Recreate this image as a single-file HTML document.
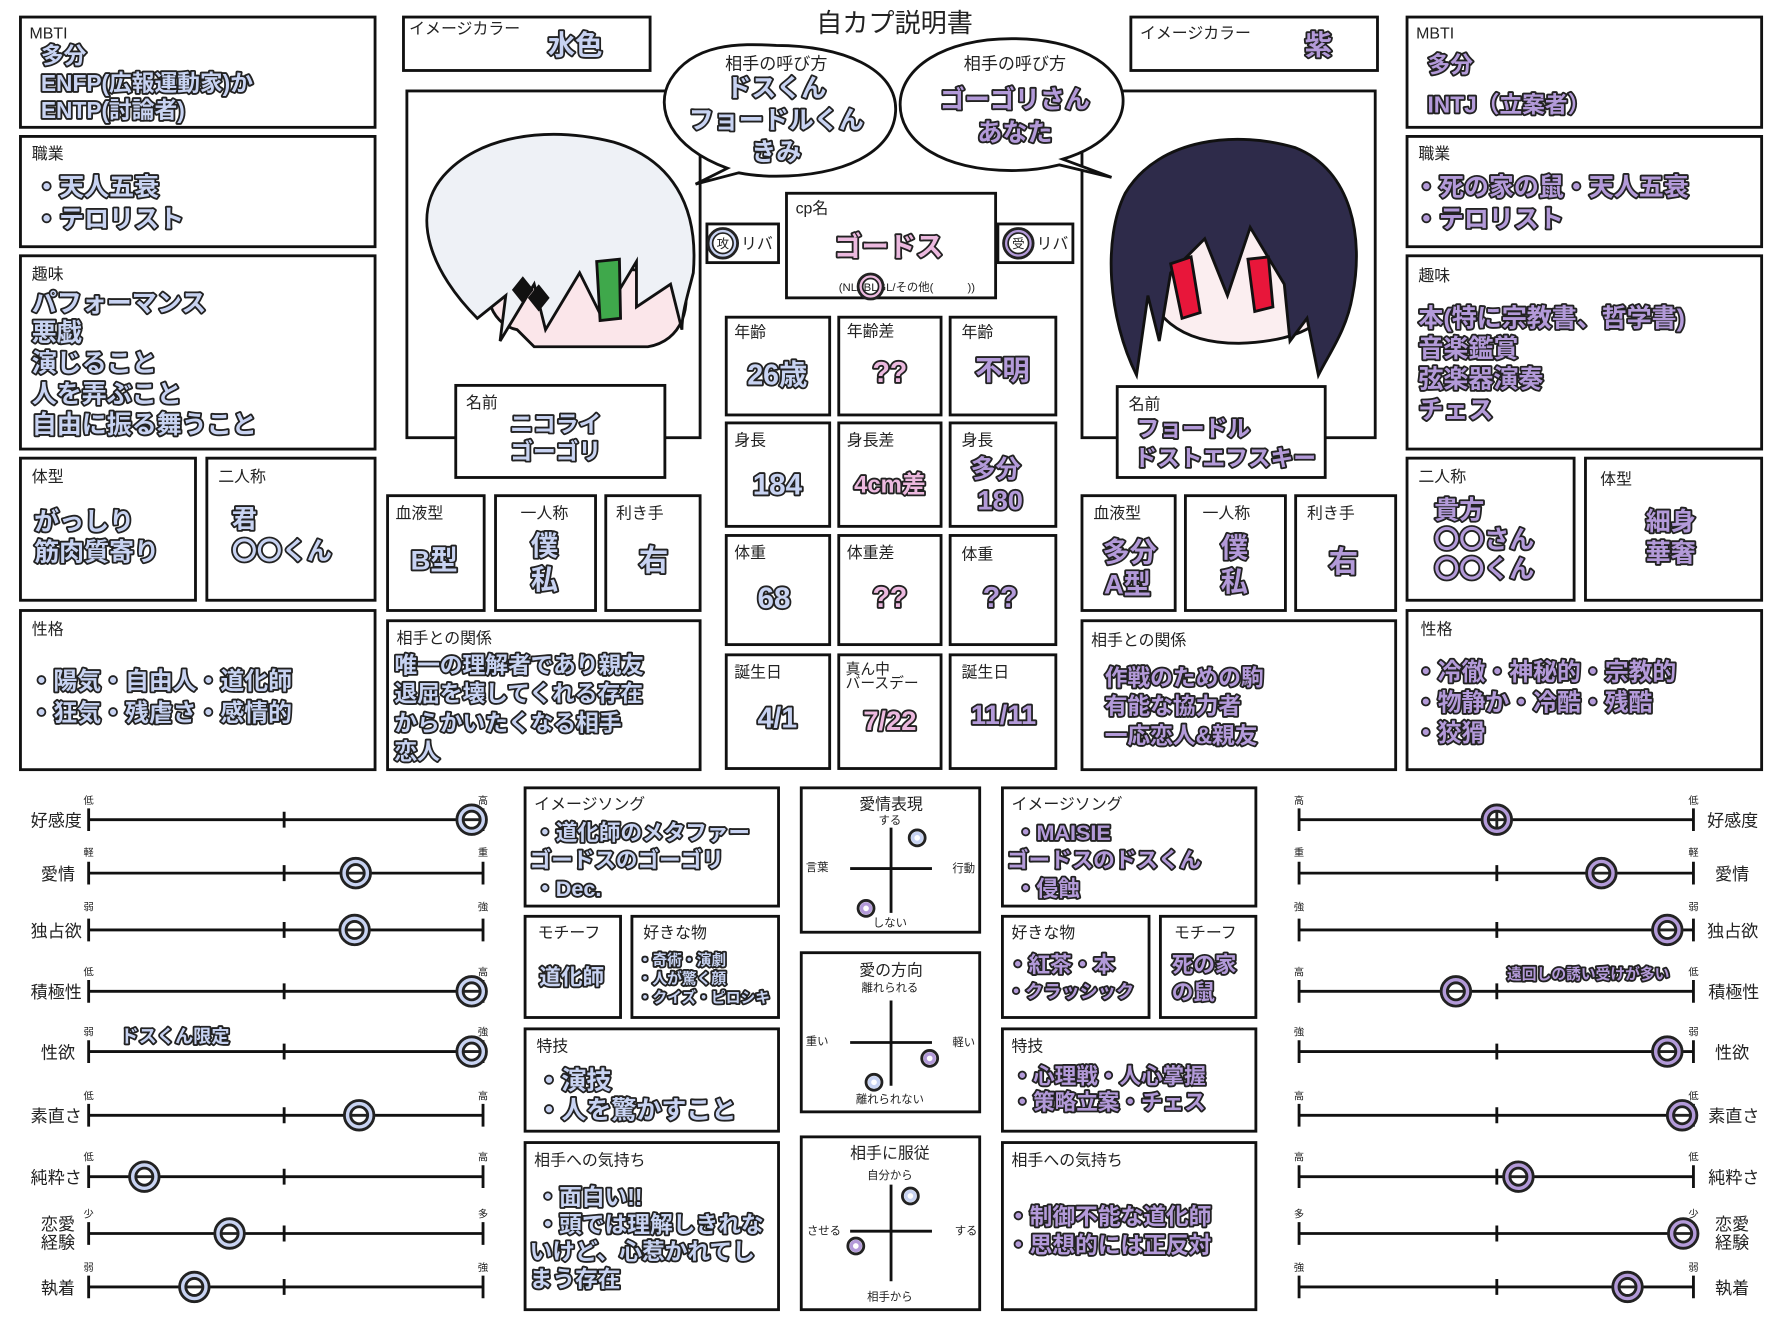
<!DOCTYPE html>
<html><head><meta charset="utf-8"><style>
html,body{margin:0;padding:0;background:#fff;}
svg{display:block;font-family:"Liberation Sans","Noto Sans CJK JP",sans-serif;}
.bx{fill:#fff;stroke:#111;stroke-width:2.5}
.lb{fill:#222}.lb:not([font-size]){font-size:14px}
.sm{fill:#222}.sm:not([font-size]){font-size:10px}
.b,.p,.k{font-weight:bold;stroke:#222;stroke-width:3.2;paint-order:stroke;stroke-linejoin:round}
.b:not([font-size]),.p:not([font-size]),.k:not([font-size]){font-size:22px}
.b{fill:#c8d3f2}.p{fill:#b39ad9}.k{fill:#ecb9df}
.ln{stroke:#111;stroke-width:2.5}
</style></head><body>
<svg width="1773" height="1329" viewBox="0 0 1560 1169" preserveAspectRatio="none">
<rect width="1560" height="1169" fill="#fff"/>
<text x="787" y="28" text-anchor="middle" font-size="23" fill="#222">自カプ説明書</text>

<!-- LEFT COLUMN -->
<rect class="bx" x="18" y="15" width="312" height="97"/>
<text class="lb" x="26" y="34">MBTI</text>
<text class="b" x="36" y="56" font-size="20">多分</text>
<text class="b" x="36" y="80" font-size="20">ENFP(広報運動家)か</text>
<text class="b" x="36" y="104" font-size="20">ENTP(討論者)</text>

<rect class="bx" x="18" y="120" width="312" height="97"/>
<text class="lb" x="28" y="140">職業</text>
<text class="b" x="30" y="172">・天人五衰</text>
<text class="b" x="30" y="200">・テロリスト</text>

<rect class="bx" x="18" y="225" width="312" height="170"/>
<text class="lb" x="28" y="246">趣味</text>
<text class="b" x="28" y="274">パフォーマンス</text>
<text class="b" x="28" y="300">悪戯</text>
<text class="b" x="28" y="327">演じること</text>
<text class="b" x="28" y="354">人を弄ぶこと</text>
<text class="b" x="28" y="381">自由に振る舞うこと</text>

<rect class="bx" x="18" y="403" width="154" height="125"/>
<text class="lb" x="28" y="424">体型</text>
<text class="b" x="30" y="466">がっしり</text>
<text class="b" x="30" y="493">筋肉質寄り</text>
<rect class="bx" x="182" y="403" width="148" height="125"/>
<text class="lb" x="192" y="424">二人称</text>
<text class="b" x="204" y="464">君</text>
<text class="b" x="204" y="492">〇〇くん</text>

<rect class="bx" x="18" y="537" width="312" height="140"/>
<text class="lb" x="28" y="558">性格</text>
<text class="b" x="26" y="606" font-size="21">・陽気・自由人・道化師</text>
<text class="b" x="26" y="634" font-size="21">・狂気・残虐さ・感情的</text>

<!-- RIGHT COLUMN -->
<rect class="bx" x="1238" y="15" width="312" height="97"/>
<text class="lb" x="1246" y="34">MBTI</text>
<text class="p" x="1256" y="64" font-size="20">多分</text>
<text class="p" x="1256" y="99" font-size="20">INTJ（立案者）</text>

<rect class="bx" x="1238" y="120" width="312" height="97"/>
<text class="lb" x="1248" y="140">職業</text>
<text class="p" x="1244" y="172">・死の家の鼠・天人五衰</text>
<text class="p" x="1244" y="200">・テロリスト</text>

<rect class="bx" x="1238" y="225" width="312" height="170"/>
<text class="lb" x="1248" y="247">趣味</text>
<text class="p" x="1248" y="287">本(特に宗教書、哲学書)</text>
<text class="p" x="1248" y="314">音楽鑑賞</text>
<text class="p" x="1248" y="341">弦楽器演奏</text>
<text class="p" x="1248" y="368">チェス</text>

<rect class="bx" x="1238" y="403" width="147" height="125"/>
<text class="lb" x="1248" y="424">二人称</text>
<text class="p" x="1262" y="456">貴方</text>
<text class="p" x="1262" y="482">〇〇さん</text>
<text class="p" x="1262" y="508">〇〇くん</text>
<rect class="bx" x="1395" y="403" width="155" height="125"/>
<text class="lb" x="1408" y="426">体型</text>
<text class="p" x="1470" y="466" text-anchor="middle">細身</text>
<text class="p" x="1470" y="494" text-anchor="middle">華奢</text>

<rect class="bx" x="1238" y="537" width="312" height="140"/>
<text class="lb" x="1250" y="558">性格</text>
<text class="p" x="1244" y="598" font-size="21">・冷徹・神秘的・宗教的</text>
<text class="p" x="1244" y="625" font-size="21">・物静か・冷酷・残酷</text>
<text class="p" x="1244" y="652" font-size="21">・狡猾</text>

<!-- IMAGE COLORS -->
<rect class="bx" x="355" y="15" width="217" height="47"/>
<text class="lb" x="360" y="30">イメージカラー</text>
<text class="b" x="482" y="48" font-size="24">水色</text>
<rect class="bx" x="995" y="15" width="217" height="47"/>
<text class="lb" x="1003" y="34">イメージカラー</text>
<text class="p" x="1148" y="48" font-size="24">紫</text>

<!-- PORTRAIT FRAMES -->
<rect class="bx" x="358" y="80" width="258" height="305"/>
<rect class="bx" x="952" y="80" width="258" height="305"/>

<!-- left character -->
<g stroke="#111" stroke-width="2.5">
<path d="M455,290 C430,285 420,250 440,230 L600,240 C610,270 600,300 570,305 L470,305 Z" fill="#fbe6ea"/>
<path d="M420,280 C380,240 360,190 390,155 C420,120 480,110 540,125 C590,140 615,180 610,240 C605,260 600,275 600,290 L590,250 L560,270 L560,230 L530,280 L510,240 L480,290 L470,250 L440,300 L445,260 Z" fill="#eef1f6"/>
<path d="M525,230 L545,228 L546,280 L528,282 Z" fill="#3fa84b"/>
<path d="M452,255 L460,245 L468,255 L460,265 Z M466,262 L474,252 L482,262 L474,272 Z" fill="#111"/>
</g>
<!-- right character -->
<g stroke="#111" stroke-width="2.5">
<path d="M1005,230 C1000,200 1030,180 1070,180 C1130,180 1170,200 1175,240 C1180,280 1150,300 1090,302 C1040,302 1008,280 1005,230 Z" fill="#fbeef0"/>
<path d="M1000,330 C975,280 970,210 990,170 C1020,120 1090,115 1140,130 C1190,150 1200,210 1190,260 C1185,290 1170,310 1160,330 L1150,280 L1135,300 L1130,250 L1100,200 L1080,260 L1060,210 L1030,240 L1020,300 L1010,260 Z" fill="#2e2b4a"/>
<path d="M1030,232 L1048,226 L1056,275 L1040,280 Z M1098,228 L1116,226 L1120,270 L1104,274 Z" fill="#e8163a"/>
</g>

<!-- NAME BOXES -->
<rect class="bx" x="401" y="339" width="184" height="81"/>
<text class="lb" x="410" y="359">名前</text>
<text class="b" x="449" y="380" font-size="20">ニコライ</text>
<text class="b" x="449" y="404" font-size="20">ゴーゴリ</text>
<rect class="bx" x="983" y="340" width="183" height="80"/>
<text class="lb" x="993" y="360">名前</text>
<text class="p" x="1000" y="384" font-size="20">フョードル</text>
<text class="p" x="998" y="410" font-size="20">ドストエフスキー</text>

<!-- SPEECH BUBBLES -->
<path d="M640,148 C590,130 575,95 590,70 C610,38 650,38 683,40 C740,40 790,60 788,98 C786,135 740,155 683,155 C670,155 660,154 650,152 L612,162 Z" fill="#fff" stroke="#111" stroke-width="2.5"/>
<text class="lb" x="683" y="61" text-anchor="middle" font-size="15">相手の呼び方</text>
<text class="b" x="683" y="85" text-anchor="middle">ドスくん</text>
<text class="b" x="683" y="113" text-anchor="middle">フョードルくん</text>
<text class="b" x="683" y="141" text-anchor="middle">きみ</text>
<path d="M935,140 C975,128 990,105 988,85 C985,55 945,34 890,34 C830,34 792,60 792,92 C792,125 830,150 890,150 C905,150 920,148 932,145 L978,156 Z" fill="#fff" stroke="#111" stroke-width="2.5"/>
<text class="lb" x="893" y="61" text-anchor="middle" font-size="15">相手の呼び方</text>
<text class="p" x="893" y="95" text-anchor="middle">ゴーゴリさん</text>
<text class="p" x="893" y="124" text-anchor="middle">あなた</text>

<!-- CP NAME -->
<rect class="bx" x="692" y="170" width="184" height="92"/>
<text class="lb" x="700" y="188">cp名</text>
<text class="k" x="782" y="225" text-anchor="middle" font-size="24">ゴードス</text>
<text class="sm" x="738" y="256">(NL/BL/GL/その他(　　　))</text>
<circle cx="766" cy="252" r="11" fill="#ecb9df" stroke="#222" stroke-width="2.5"/>
<circle cx="766" cy="252" r="7" fill="#fff" stroke="#222" stroke-width="1.5"/>
<text class="sm" x="766" y="256" text-anchor="middle">BL</text>
<rect class="bx" x="622" y="197" width="63" height="34"/>
<circle cx="636" cy="214" r="13" fill="#c8d3f2" stroke="#222" stroke-width="2.5"/>
<circle cx="636" cy="214" r="9" fill="#fff" stroke="#222" stroke-width="1.5"/>
<text class="sm" x="636" y="218" text-anchor="middle" font-size="11">攻</text>
<text class="lb" x="652" y="219">リバ</text>
<rect class="bx" x="878" y="197" width="66" height="34"/>
<circle cx="896" cy="214" r="13" fill="#b39ad9" stroke="#222" stroke-width="2.5"/>
<circle cx="896" cy="214" r="9" fill="#fff" stroke="#222" stroke-width="1.5"/>
<text class="sm" x="896" y="218" text-anchor="middle" font-size="11">受</text>
<text class="lb" x="912" y="219">リバ</text>

<!-- CENTER GRID -->
<g>
<rect class="bx" x="639" y="279" width="91" height="86"/><rect class="bx" x="738" y="279" width="90" height="86"/><rect class="bx" x="836" y="279" width="93" height="86"/>
<rect class="bx" x="639" y="372" width="91" height="91"/><rect class="bx" x="738" y="372" width="90" height="91"/><rect class="bx" x="836" y="372" width="93" height="91"/>
<rect class="bx" x="639" y="471" width="91" height="96"/><rect class="bx" x="738" y="471" width="90" height="96"/><rect class="bx" x="836" y="471" width="93" height="96"/>
<rect class="bx" x="639" y="576" width="91" height="100"/><rect class="bx" x="738" y="576" width="90" height="100"/><rect class="bx" x="836" y="576" width="93" height="100"/>
</g>
<text class="lb" x="646" y="297">年齢</text><text class="lb" x="745" y="296">年齢差</text><text class="lb" x="846" y="297">年齢</text>
<text class="b" x="684" y="338" text-anchor="middle" font-size="25">26歳</text><text class="k" x="783" y="336" text-anchor="middle" font-size="25">??</text><text class="p" x="882" y="334" text-anchor="middle" font-size="24">不明</text>
<text class="lb" x="646" y="392">身長</text><text class="lb" x="745" y="392">身長差</text><text class="lb" x="846" y="392">身長</text>
<text class="b" x="684" y="435" text-anchor="middle" font-size="26">184</text><text class="k" x="783" y="433" text-anchor="middle" font-size="21">4cm差</text>
<text class="p" x="876" y="420" text-anchor="middle">多分</text><text class="p" x="880" y="448" text-anchor="middle" font-size="24">180</text>
<text class="lb" x="646" y="491">体重</text><text class="lb" x="745" y="491">体重差</text><text class="lb" x="846" y="492">体重</text>
<text class="b" x="681" y="535" text-anchor="middle" font-size="26">68</text><text class="k" x="783" y="534" text-anchor="middle" font-size="25">??</text><text class="p" x="880" y="534" text-anchor="middle" font-size="25">??</text>
<text class="lb" x="646" y="596">誕生日</text><text class="lb" x="744" y="593" font-size="13">真ん中</text><text class="lb" x="744" y="605" font-size="13">バースデー</text><text class="lb" x="846" y="596">誕生日</text>
<text class="b" x="684" y="640" text-anchor="middle" font-size="25">4/1</text><text class="k" x="783" y="642" text-anchor="middle" font-size="24">7/22</text><text class="p" x="883" y="637" text-anchor="middle" font-size="24">11/11</text>

<!-- LEFT small boxes -->
<rect class="bx" x="341" y="436" width="85" height="101"/><rect class="bx" x="436" y="436" width="88" height="101"/><rect class="bx" x="533" y="436" width="83" height="101"/>
<text class="lb" x="348" y="456">血液型</text><text class="lb" x="458" y="456">一人称</text><text class="lb" x="542" y="456">利き手</text>
<text class="b" x="382" y="501" text-anchor="middle" font-size="24">B型</text>
<text class="b" x="479" y="488" text-anchor="middle" font-size="24">僕</text><text class="b" x="479" y="518" text-anchor="middle" font-size="24">私</text>
<text class="b" x="575" y="502" text-anchor="middle" font-size="26">右</text>
<rect class="bx" x="341" y="546" width="275" height="131"/>
<text class="lb" x="349" y="566">相手との関係</text>
<text class="b" x="347" y="592" font-size="20">唯一の理解者であり親友</text>
<text class="b" x="347" y="617" font-size="20">退屈を壊してくれる存在</text>
<text class="b" x="347" y="643" font-size="20">からかいたくなる相手</text>
<text class="b" x="347" y="668" font-size="20">恋人</text>

<!-- RIGHT small boxes -->
<rect class="bx" x="952" y="436" width="82" height="101"/><rect class="bx" x="1043" y="436" width="88" height="101"/><rect class="bx" x="1140" y="436" width="88" height="101"/>
<text class="lb" x="962" y="456">血液型</text><text class="lb" x="1058" y="456">一人称</text><text class="lb" x="1150" y="456">利き手</text>
<text class="p" x="994" y="494" text-anchor="middle" font-size="24">多分</text><text class="p" x="992" y="522" text-anchor="middle" font-size="24">A型</text>
<text class="p" x="1086" y="490" text-anchor="middle" font-size="24">僕</text><text class="p" x="1086" y="520" text-anchor="middle" font-size="24">私</text>
<text class="p" x="1182" y="503" text-anchor="middle" font-size="26">右</text>
<rect class="bx" x="952" y="546" width="276" height="131"/>
<text class="lb" x="960" y="568">相手との関係</text>
<text class="p" x="972" y="603" font-size="20">作戦のための駒</text>
<text class="p" x="972" y="628" font-size="20">有能な協力者</text>
<text class="p" x="972" y="654" font-size="20">一応恋人&amp;親友</text>

<!-- MIDDLE LEFT BOXES -->
<rect class="bx" x="462" y="693" width="223" height="104"/>
<text class="lb" x="470" y="712">イメージソング</text>
<text class="b" x="470" y="739" font-size="19">・道化師のメタファー</text>
<text class="b" x="466" y="763" font-size="19">ゴードスのゴーゴリ</text>
<text class="b" x="470" y="788" font-size="19">・Dec.</text>
<rect class="bx" x="462" y="806" width="84" height="89"/>
<text class="lb" x="473" y="825">モチーフ</text>
<text class="b" x="503" y="866" text-anchor="middle" font-size="19">道化師</text>
<rect class="bx" x="556" y="806" width="129" height="89"/>
<text class="lb" x="566" y="825">好きな物</text>
<text class="b" x="561" y="849" font-size="13" stroke-width="2.5">・奇術・演劇</text>
<text class="b" x="561" y="865" font-size="13" stroke-width="2.5">・人が驚く顔</text>
<text class="b" x="561" y="882" font-size="13" stroke-width="2.5">・クイズ・ピロシキ</text>
<rect class="bx" x="462" y="905" width="223" height="90"/>
<text class="lb" x="472" y="925">特技</text>
<text class="b" x="472" y="958">・演技</text>
<text class="b" x="472" y="984">・人を驚かすこと</text>
<rect class="bx" x="462" y="1005" width="223" height="147"/>
<text class="lb" x="470" y="1025">相手への気持ち</text>
<text class="b" x="472" y="1060" font-size="20">・面白い!!</text>
<text class="b" x="472" y="1084" font-size="20">・頭では理解しきれな</text>
<text class="b" x="466" y="1108" font-size="20">いけど、心惹かれてし</text>
<text class="b" x="466" y="1132" font-size="20">まう存在</text>

<!-- MIDDLE RIGHT BOXES -->
<rect class="bx" x="882" y="693" width="223" height="104"/>
<text class="lb" x="890" y="712">イメージソング</text>
<text class="p" x="893" y="739" font-size="19">・MAISIE</text>
<text class="p" x="886" y="763" font-size="19">ゴードスのドスくん</text>
<text class="p" x="893" y="788" font-size="19">・侵蝕</text>
<rect class="bx" x="882" y="806" width="129" height="89"/>
<text class="lb" x="890" y="825">好きな物</text>
<text class="p" x="886" y="855" font-size="19">・紅茶・本</text>
<text class="p" x="886" y="878" font-size="16">・クラッシック</text>
<rect class="bx" x="1021" y="806" width="84" height="89"/>
<text class="lb" x="1033" y="825">モチーフ</text>
<text class="p" x="1031" y="855" font-size="19">死の家</text>
<text class="p" x="1031" y="879" font-size="19">の鼠</text>
<rect class="bx" x="882" y="905" width="223" height="90"/>
<text class="lb" x="890" y="925">特技</text>
<text class="p" x="890" y="953" font-size="19">・心理戦・人心掌握</text>
<text class="p" x="890" y="976" font-size="19">・策略立案・チェス</text>
<rect class="bx" x="882" y="1005" width="223" height="147"/>
<text class="lb" x="890" y="1025">相手への気持ち</text>
<text class="p" x="886" y="1077" font-size="20">・制御不能な道化師</text>
<text class="p" x="886" y="1102" font-size="20">・思想的には正反対</text>

<!-- QUADRANT CHARTS -->
<g>
<rect class="bx" x="705" y="693" width="157" height="127"/>
<text class="lb" x="784" y="712" text-anchor="middle">愛情表現</text>
<text class="sm" x="783" y="725" text-anchor="middle">する</text>
<text class="sm" x="783" y="815" text-anchor="middle">しない</text>
<text class="sm" x="719" y="766" text-anchor="middle">言葉</text>
<text class="sm" x="848" y="767" text-anchor="middle">行動</text>
<line class="ln" x1="748" y1="764" x2="820" y2="764"/><line class="ln" x1="784" y1="728" x2="784" y2="803"/>
<rect class="bx" x="705" y="838" width="157" height="140"/>
<text class="lb" x="784" y="858" text-anchor="middle">愛の方向</text>
<text class="sm" x="783" y="872" text-anchor="middle">離れられる</text>
<text class="sm" x="783" y="970" text-anchor="middle">離れられない</text>
<text class="sm" x="719" y="919" text-anchor="middle">重い</text>
<text class="sm" x="848" y="920" text-anchor="middle">軽い</text>
<line class="ln" x1="748" y1="917" x2="820" y2="917"/><line class="ln" x1="784" y1="880" x2="784" y2="955"/>
<rect class="bx" x="705" y="1000" width="157" height="152"/>
<text class="lb" x="783" y="1019" text-anchor="middle">相手に服従</text>
<text class="sm" x="783" y="1037" text-anchor="middle">自分から</text>
<text class="sm" x="783" y="1144" text-anchor="middle">相手から</text>
<text class="sm" x="725" y="1086" text-anchor="middle">させる</text>
<text class="sm" x="850" y="1086" text-anchor="middle">する</text>
<line class="ln" x1="748" y1="1083" x2="820" y2="1083"/><line class="ln" x1="784" y1="1042" x2="784" y2="1127"/>
</g>
<g stroke="#222" stroke-width="2.5">
<circle cx="807" cy="737" r="7" fill="#fff"/><circle cx="807" cy="737" r="4" fill="none" stroke="#c8d3f2" stroke-width="3"/>
<circle cx="762" cy="799" r="7" fill="#fff"/><circle cx="762" cy="799" r="4" fill="none" stroke="#b39ad9" stroke-width="3"/>
<circle cx="818" cy="931" r="7" fill="#fff"/><circle cx="818" cy="931" r="4" fill="none" stroke="#b39ad9" stroke-width="3"/>
<circle cx="769" cy="952" r="7" fill="#fff"/><circle cx="769" cy="952" r="4" fill="none" stroke="#c8d3f2" stroke-width="3"/>
<circle cx="801" cy="1052" r="7" fill="#fff"/><circle cx="801" cy="1052" r="4" fill="none" stroke="#c8d3f2" stroke-width="3"/>
<circle cx="753" cy="1096" r="7" fill="#fff"/><circle cx="753" cy="1096" r="4" fill="none" stroke="#b39ad9" stroke-width="3"/>
</g>

<!-- LEFT SLIDERS -->
<g class="ln">
<line x1="78" y1="721" x2="425" y2="721"/><line x1="78" y1="768" x2="425" y2="768"/><line x1="78" y1="818" x2="425" y2="818"/>
<line x1="78" y1="872" x2="425" y2="872"/><line x1="78" y1="925" x2="425" y2="925"/><line x1="78" y1="981" x2="425" y2="981"/>
<line x1="78" y1="1035" x2="425" y2="1035"/><line x1="78" y1="1085" x2="425" y2="1085"/><line x1="78" y1="1132" x2="425" y2="1132"/>
</g>
<g stroke="#111" stroke-width="2.5">
<path d="M78,711v20M250,714v14M425,711v20 M78,758v20M250,761v14M425,758v20 M78,808v20M250,811v14M425,808v20 M78,862v20M250,865v14M425,862v20 M78,915v20M250,918v14M425,915v20 M78,971v20M250,974v14M425,971v20 M78,1025v20M250,1028v14M425,1025v20 M78,1075v20M250,1078v14M425,1075v20 M78,1122v20M250,1125v14M425,1122v20"/>
</g>
<g font-size="15" fill="#222" text-anchor="end">
<text x="72" y="727">好感度</text><text x="66" y="774">愛情</text><text x="72" y="824">独占欲</text><text x="72" y="878">積極性</text>
<text x="66" y="931">性欲</text><text x="72" y="987">素直さ</text><text x="72" y="1041">純粋さ</text><text x="66" y="1082">恋愛</text><text x="66" y="1098">経験</text><text x="66" y="1138">執着</text>
</g>
<g class="sm" text-anchor="middle" font-size="9">
<text x="78" y="707">低</text><text x="425" y="707">高</text><text x="78" y="753">軽</text><text x="425" y="753">重</text>
<text x="78" y="801">弱</text><text x="425" y="801">強</text><text x="78" y="858">低</text><text x="425" y="858">高</text>
<text x="78" y="911">弱</text><text x="425" y="911">強</text><text x="78" y="967">低</text><text x="425" y="967">高</text>
<text x="78" y="1021">低</text><text x="425" y="1021">高</text><text x="78" y="1071">少</text><text x="425" y="1071">多</text>
<text x="78" y="1118">弱</text><text x="425" y="1118">強</text>
</g>
<text class="b" x="106" y="917" font-size="16" stroke-width="2.8">ドスくん限定</text>
<g stroke="#222" stroke-width="2.5" fill="#c8d3f2">
<circle cx="415" cy="721" r="13"/><circle cx="415" cy="721" r="7.5" fill="#fff"/><path d="M408,721h14"/>
<circle cx="313" cy="768" r="13"/><circle cx="313" cy="768" r="7.5" fill="#fff"/><path d="M306,768h14"/>
<circle cx="312" cy="818" r="13"/><circle cx="312" cy="818" r="7.5" fill="#fff"/><path d="M305,818h14"/>
<circle cx="415" cy="872" r="13"/><circle cx="415" cy="872" r="7.5" fill="#fff"/><path d="M408,872h14"/>
<circle cx="415" cy="925" r="13"/><circle cx="415" cy="925" r="7.5" fill="#fff"/><path d="M408,925h14"/>
<circle cx="316" cy="981" r="13"/><circle cx="316" cy="981" r="7.5" fill="#fff"/><path d="M309,981h14"/>
<circle cx="127" cy="1035" r="13"/><circle cx="127" cy="1035" r="7.5" fill="#fff"/><path d="M120,1035h14"/>
<circle cx="202" cy="1085" r="13"/><circle cx="202" cy="1085" r="7.5" fill="#fff"/><path d="M195,1085h14"/>
<circle cx="171" cy="1132" r="13"/><circle cx="171" cy="1132" r="7.5" fill="#fff"/><path d="M164,1132h14"/>
</g>

<!-- RIGHT SLIDERS -->
<g class="ln">
<line x1="1143" y1="721" x2="1490" y2="721"/><line x1="1143" y1="768" x2="1490" y2="768"/><line x1="1143" y1="818" x2="1490" y2="818"/>
<line x1="1143" y1="872" x2="1490" y2="872"/><line x1="1143" y1="925" x2="1490" y2="925"/><line x1="1143" y1="981" x2="1490" y2="981"/>
<line x1="1143" y1="1035" x2="1490" y2="1035"/><line x1="1143" y1="1085" x2="1490" y2="1085"/><line x1="1143" y1="1132" x2="1490" y2="1132"/>
</g>
<g stroke="#111" stroke-width="2.5">
<path d="M1143,711v20M1317,714v14M1490,711v20 M1143,758v20M1317,761v14M1490,758v20 M1143,808v20M1317,811v14M1490,808v20 M1143,862v20M1317,865v14M1490,862v20 M1143,915v20M1317,918v14M1490,915v20 M1143,971v20M1317,974v14M1490,971v20 M1143,1025v20M1317,1028v14M1490,1025v20 M1143,1075v20M1317,1078v14M1490,1075v20 M1143,1122v20M1317,1125v14M1490,1122v20"/>
</g>
<g font-size="15" fill="#222">
<text x="1502" y="727">好感度</text><text x="1509" y="774">愛情</text><text x="1502" y="824">独占欲</text><text x="1503" y="878">積極性</text>
<text x="1509" y="931">性欲</text><text x="1503" y="987">素直さ</text><text x="1503" y="1041">純粋さ</text><text x="1509" y="1082">恋愛</text><text x="1509" y="1098">経験</text><text x="1509" y="1138">執着</text>
</g>
<g class="sm" text-anchor="middle" font-size="9">
<text x="1143" y="707">高</text><text x="1490" y="707">低</text><text x="1143" y="753">重</text><text x="1490" y="753">軽</text>
<text x="1143" y="801">強</text><text x="1490" y="801">弱</text><text x="1143" y="858">高</text><text x="1490" y="858">低</text>
<text x="1143" y="911">強</text><text x="1490" y="911">弱</text><text x="1143" y="967">高</text><text x="1490" y="967">低</text>
<text x="1143" y="1021">高</text><text x="1490" y="1021">低</text><text x="1143" y="1071">多</text><text x="1490" y="1071">少</text>
<text x="1143" y="1118">強</text><text x="1490" y="1118">弱</text>
</g>
<text class="p" x="1326" y="861" font-size="13" stroke-width="2.5">遠回しの誘い受けが多い</text>
<g stroke="#222" stroke-width="2.5" fill="#b39ad9">
<circle cx="1317" cy="721" r="13"/><circle cx="1317" cy="721" r="7.5" fill="#fff"/><path d="M1310,721h14M1317,714v14"/>
<circle cx="1409" cy="768" r="13"/><circle cx="1409" cy="768" r="7.5" fill="#fff"/><path d="M1402,768h14"/>
<circle cx="1467" cy="818" r="13"/><circle cx="1467" cy="818" r="7.5" fill="#fff"/><path d="M1460,818h14"/>
<circle cx="1281" cy="872" r="13"/><circle cx="1281" cy="872" r="7.5" fill="#fff"/><path d="M1274,872h14"/>
<circle cx="1467" cy="925" r="13"/><circle cx="1467" cy="925" r="7.5" fill="#fff"/><path d="M1460,925h14"/>
<circle cx="1480" cy="981" r="13"/><circle cx="1480" cy="981" r="7.5" fill="#fff"/><path d="M1473,981h14"/>
<circle cx="1336" cy="1035" r="13"/><circle cx="1336" cy="1035" r="7.5" fill="#fff"/><path d="M1329,1035h14"/>
<circle cx="1481" cy="1085" r="13"/><circle cx="1481" cy="1085" r="7.5" fill="#fff"/><path d="M1474,1085h14"/>
<circle cx="1432" cy="1132" r="13"/><circle cx="1432" cy="1132" r="7.5" fill="#fff"/><path d="M1425,1132h14"/>
</g>
</svg>
</body></html>
